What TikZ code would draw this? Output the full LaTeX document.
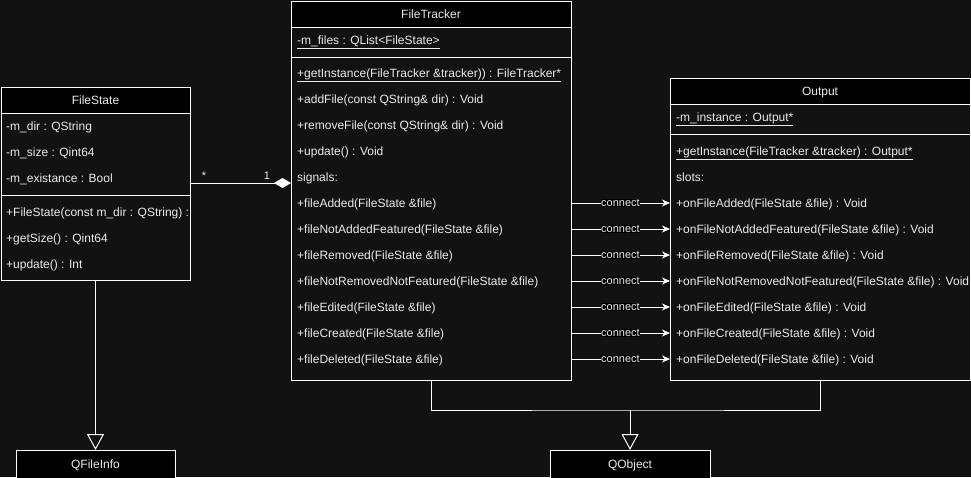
\documentclass[tikz,border=0pt]{standalone}
\usepackage{fontspec}
\setmainfont[Ligatures=NoCommon]{Liberation Sans}
\usetikzlibrary{arrows.meta}
\definecolor{bgdark}{HTML}{121212}
\definecolor{txtgrey}{HTML}{EBEBEB}
\tikzset{
  classhead/.style={draw=white, fill=black, text=txtgrey, anchor=north west, inner sep=0pt, outer sep=0pt, line width=1pt, text height=8.6pt, text depth=0pt},
  classpart/.style={draw=white, fill=bgdark, anchor=north west, inner sep=0pt, outer sep=0pt, line width=1pt},
  member/.style={anchor=west, text=txtgrey, inner sep=0pt, text height=8.6pt, text depth=0pt},
  conn/.style={draw=white, line width=1pt, -{Stealth[length=8pt, width=7pt, inset=2.5pt]}},
  connlabel/.style={fill=black, text=txtgrey, inner sep=0.6pt, font=\fontsize{11}{13}\selectfont},
  inherit/.style={draw=white, line width=1pt, -{Triangle[length=16pt, width=17pt, fill=bgdark]}},
  aggreg/.style={draw=white, line width=1pt, -{Diamond[length=17pt, width=10pt, fill=white]}},
  mult/.style={anchor=base, text=txtgrey, inner sep=0pt, font=\fontsize{11}{13}\selectfont},
}
\begin{document}
\begin{tikzpicture}[x=1pt, y=-1pt, font=\fontsize{12}{14}\selectfont]
	\fill[bgdark] (0,0) rectangle (971,477);
	\useasboundingbox (0,0) rectangle (971,477);
	% FileState
	\node[classhead, minimum width=189, minimum height=26] (fsHead) at (1,87) {FileState};
	\node[classpart, minimum width=189, minimum height=82] (fsAttr) at (1,113) {};
	\node[classpart, minimum width=189, minimum height=85] (fsOps) at (1,195) {};
	\node[member] (fsDir) at (6,126) {-m\_dir : QString};
	\node[member] (fsSize) at (6,152) {-m\_size : Qint64};
	\node[member] (fsExist) at (6,178) {-m\_existance : Bool};
	\node[member] (fsCtor) at (6,212) {+FileState(const m\_dir : QString) :};
	\node[member] (fsGetSize) at (6,238) {+getSize() : Qint64};
	\node[member] (fsUpdate) at (6,264) {+update() : Int};
	% FileTracker
	\node[classhead, minimum width=280, minimum height=26] (ftHead) at (291,1) {FileTracker};
	\node[classpart, minimum width=280, minimum height=30] (ftAttr) at (291,27) {};
	\node[classpart, minimum width=280, minimum height=323] (ftOps) at (291,57) {};
	\node[member] (ftFiles) at (297,40) {\underline{-m\_files : QList<FileState>}};
	\node[member] (ftInst) at (297,73) {\underline{+getInstance(FileTracker \&tracker)) : FileTracker*}};
	\node[member] (ftAdd) at (297,99) {+addFile(const QString\& dir) : Void};
	\node[member] (ftRemove) at (297,125) {+removeFile(const QString\& dir) : Void};
	\node[member] (ftUpdate) at (297,151) {+update() : Void};
	\node[member] (ftSignals) at (297,177) {signals:};
	\node[member] (sigAdded) at (297,203) {+fileAdded(FileState \&file)};
	\node[member] (sigNotAdded) at (297,229) {+fileNotAddedFeatured(FileState \&file)};
	\node[member] (sigRemoved) at (297,255) {+fileRemoved(FileState \&file)};
	\node[member] (sigNotRemoved) at (297,281) {+fileNotRemovedNotFeatured(FileState \&file)};
	\node[member] (sigEdited) at (297,307) {+fileEdited(FileState \&file)};
	\node[member] (sigCreated) at (297,333) {+fileCreated(FileState \&file)};
	\node[member] (sigDeleted) at (297,359) {+fileDeleted(FileState \&file)};
	% Output
	\node[classhead, minimum width=300, minimum height=26] (outHead) at (670,78) {Output};
	\node[classpart, minimum width=300, minimum height=30] (outAttr) at (670,104) {};
	\node[classpart, minimum width=300, minimum height=246] (outOps) at (670,134) {};
	\node[member] (outInstVar) at (676,117) {\underline{-m\_instance : Output*}};
	\node[member] (outInst) at (676,151) {\underline{+getInstance(FileTracker \&tracker) : Output*}};
	\node[member] (outSlots) at (676,177) {slots:};
	\node[member] (slotAdded) at (676,203) {+onFileAdded(FileState \&file) : Void};
	\node[member] (slotNotAdded) at (676,229) {+onFileNotAddedFeatured(FileState \&file) : Void};
	\node[member] (slotRemoved) at (676,255) {+onFileRemoved(FileState \&file) : Void};
	\node[member] (slotNotRemoved) at (676,281) {+onFileNotRemovedNotFeatured(FileState \&file) : Void};
	\node[member] (slotEdited) at (676,307) {+onFileEdited(FileState \&file) : Void};
	\node[member] (slotCreated) at (676,333) {+onFileCreated(FileState \&file) : Void};
	\node[member] (slotDeleted) at (676,359) {+onFileDeleted(FileState \&file) : Void};
	% base classes
	\node[classhead, minimum width=159, minimum height=28] (fiBox) at (16,450) {QFileInfo};
	\node[classhead, minimum width=160, minimum height=28] (qoBox) at (550,450) {QObject};
	% connectors
	\coordinate (aggL) at (190,183);
	\draw[aggreg] (aggL) -- (aggL -| ftOps.west);
	\node[mult] (mulMany) at (204,179) {*};
	\node[mult] (mulOne) at (267,179) {1};
	\draw[conn] (sigAdded.west -| ftOps.east) -- (slotAdded.west -| outOps.west) node[midway, connlabel] {connect};
	\draw[conn] (sigNotAdded.west -| ftOps.east) -- (slotNotAdded.west -| outOps.west) node[midway, connlabel] {connect};
	\draw[conn] (sigRemoved.west -| ftOps.east) -- (slotRemoved.west -| outOps.west) node[midway, connlabel] {connect};
	\draw[conn] (sigNotRemoved.west -| ftOps.east) -- (slotNotRemoved.west -| outOps.west) node[midway, connlabel] {connect};
	\draw[conn] (sigEdited.west -| ftOps.east) -- (slotEdited.west -| outOps.west) node[midway, connlabel] {connect};
	\draw[conn] (sigCreated.west -| ftOps.east) -- (slotCreated.west -| outOps.west) node[midway, connlabel] {connect};
	\draw[conn] (sigDeleted.west -| ftOps.east) -- (slotDeleted.west -| outOps.west) node[midway, connlabel] {connect};
	\draw[inherit] (fsOps.south) -- (fiBox.north);
	\coordinate (qoJoin) at (630,410);
	\draw[white, line width=1pt] (ftOps.south) |- (qoJoin) -| (outOps.south);
	\draw[inherit] (qoJoin) -- (qoBox.north);
\end{tikzpicture}
\end{document}
